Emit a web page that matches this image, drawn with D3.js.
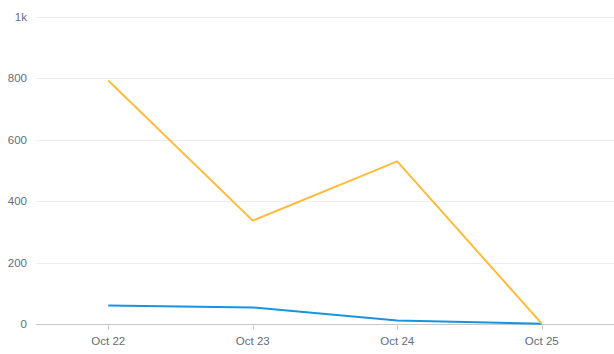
<!DOCTYPE html>
<html>
<head>
<meta charset="utf-8">
<script src="https://cdn.jsdelivr.net/npm/d3@7"></script>
<style>
  body { margin: 0; background: #fff; }
  svg text { font-family: "Liberation Sans", Arial, sans-serif; font-size: 11.5px; fill: #656d78; }
</style>
</head>
<body>
<div id="chart"></div>
<script>
var categories = ["Oct 22", "Oct 23", "Oct 24", "Oct 25"];
var orangeValues = [792, 336, 529, 1];
var blueValues = [60, 54, 11, 1];
var yTicks = [0, 200, 400, 600, 800, 1000];

var chartWidth = 614, chartHeight = 354;
var plotLeft = 36, plotRight = 614, plotTop = 16.5, plotBottom = 324;

var svg = d3.select("#chart").append("svg")
    .attr("width", chartWidth)
    .attr("height", chartHeight);

var x = d3.scalePoint().domain(categories).range([plotLeft, plotRight]).padding(0.5);
var y = d3.scaleLinear().domain([0, 1000]).range([plotBottom, plotTop]);

// grid
svg.append("g").selectAll("line")
    .data(yTicks.filter(function(d){ return d > 0; }))
  .enter().append("line")
    .attr("x1", plotLeft).attr("x2", plotRight)
    .attr("y1", function(d){ return Math.round(y(d)) + 0.5; })
    .attr("y2", function(d){ return Math.round(y(d)) + 0.5; })
    .attr("stroke", "#ededed");

// y labels
svg.append("g").selectAll("text")
    .data(yTicks)
  .enter().append("text")
    .attr("x", 27)
    .attr("y", function(d){ return y(d); })
    .attr("dy", "0.35em")
    .attr("text-anchor", "end")
    .text(function(d){ return d >= 1000 ? (d / 1000) + "k" : d; });

// x axis
var xAxis = svg.append("g")
    .attr("transform", "translate(0," + (Math.round(plotBottom) + 0.5) + ")");
xAxis.append("line")
    .attr("x1", plotLeft).attr("x2", plotRight)
    .attr("stroke", "#c8c8c8");
xAxis.selectAll("line.tick")
    .data(categories)
  .enter().append("line")
    .attr("class", "tick")
    .attr("x1", function(d){ return Math.round(x(d)) + 0.5; })
    .attr("x2", function(d){ return Math.round(x(d)) + 0.5; })
    .attr("y1", 0).attr("y2", 5)
    .attr("stroke", "#c8c8c8");
xAxis.selectAll("text")
    .data(categories)
  .enter().append("text")
    .attr("x", function(d){ return x(d); })
    .attr("y", 16)
    .attr("dy", "0.35em")
    .attr("text-anchor", "middle")
    .text(function(d){ return d; });

var line = d3.line()
    .x(function(d, i){ return x(categories[i]); })
    .y(function(d){ return y(d); });

svg.append("path")
    .datum(blueValues)
    .attr("d", line)
    .attr("fill", "none")
    .attr("stroke", "#1793e0")
    .attr("stroke-width", 2);

svg.append("path")
    .datum(orangeValues)
    .attr("d", line)
    .attr("fill", "none")
    .attr("stroke", "#ffbb3d")
    .attr("stroke-width", 2);
</script>
</body>
</html>
